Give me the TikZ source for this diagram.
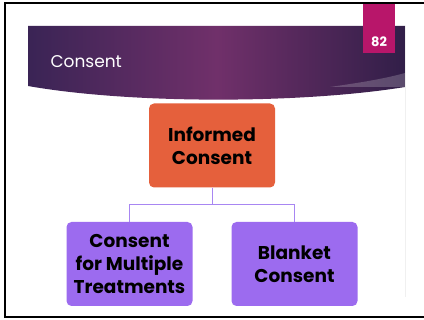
\documentclass[tikz,border=0pt]{standalone}
\usepackage{fontspec}
\setmainfont{Poppins}
\usetikzlibrary{positioning}

\definecolor{slidepurple}{HTML}{70306A}
\definecolor{slidedark}{HTML}{3A2455}
\definecolor{tabpink}{HTML}{B8166A}
\definecolor{topbox}{HTML}{E5603C}
\definecolor{subbox}{HTML}{9C6BEF}
\definecolor{linkcol}{HTML}{A886F2}

\tikzset{
    box/.style={rounded corners=5pt, minimum width=126pt, minimum height=84pt, align=center, font=\fontsize{18.5}{23}\selectfont\bfseries, text=black},
    link/.style={draw=linkcol, line width=1pt}
}

\begin{document}
\begin{tikzpicture}[x=1pt, y=1pt]
    \useasboundingbox (0,0) rectangle (424,320);
    \fill[white] (0,0) rectangle (424,320);

    % slide banner
    \shade[left color=slidedark, right color=slidedark!85!black, middle color=slidepurple]
        (28,294) -- (405,294) -- (405,233) .. controls (300,216) and (130,216) .. (28,234) -- cycle;
    \fill[white, opacity=.2] (405,247) .. controls (380,240) and (350,236) .. (330,233) -- (405,233) -- cycle;
    \draw[gray!12] (405,294) -- (405,23);
    \node[anchor=west, text=white, font=\fontsize{17}{20}\selectfont] (title) at (47,258) {Consent};

    % page tab
    \fill[tabpink] (363,317) rectangle (395,267);
    \node[text=white, font=\fontsize{13}{15}\selectfont\bfseries] (page) at (379,278.5) {82};

    % boxes
    \node[box, fill=topbox] (ic) at (212,174.5) {Informed\\Consent};
    \node[box, fill=subbox] (cmt) at (129.5,56) {Consent\\for Multiple\\Treatments};
    \node[box, fill=subbox] (bc) at (294.5,56) {Blanket\\Consent};

    \path (ic.south) -- ++(0,-16.5) coordinate (split);
    \draw[link] (ic.south) -- (split);
    \draw[link] (split) -| (cmt.north);
    \draw[link] (split) -| (bc.north);

    % frame
    \draw[line width=2pt] (426,317) -- (5,317) -- (5,3) -- (426,3);
\end{tikzpicture}
\end{document}
